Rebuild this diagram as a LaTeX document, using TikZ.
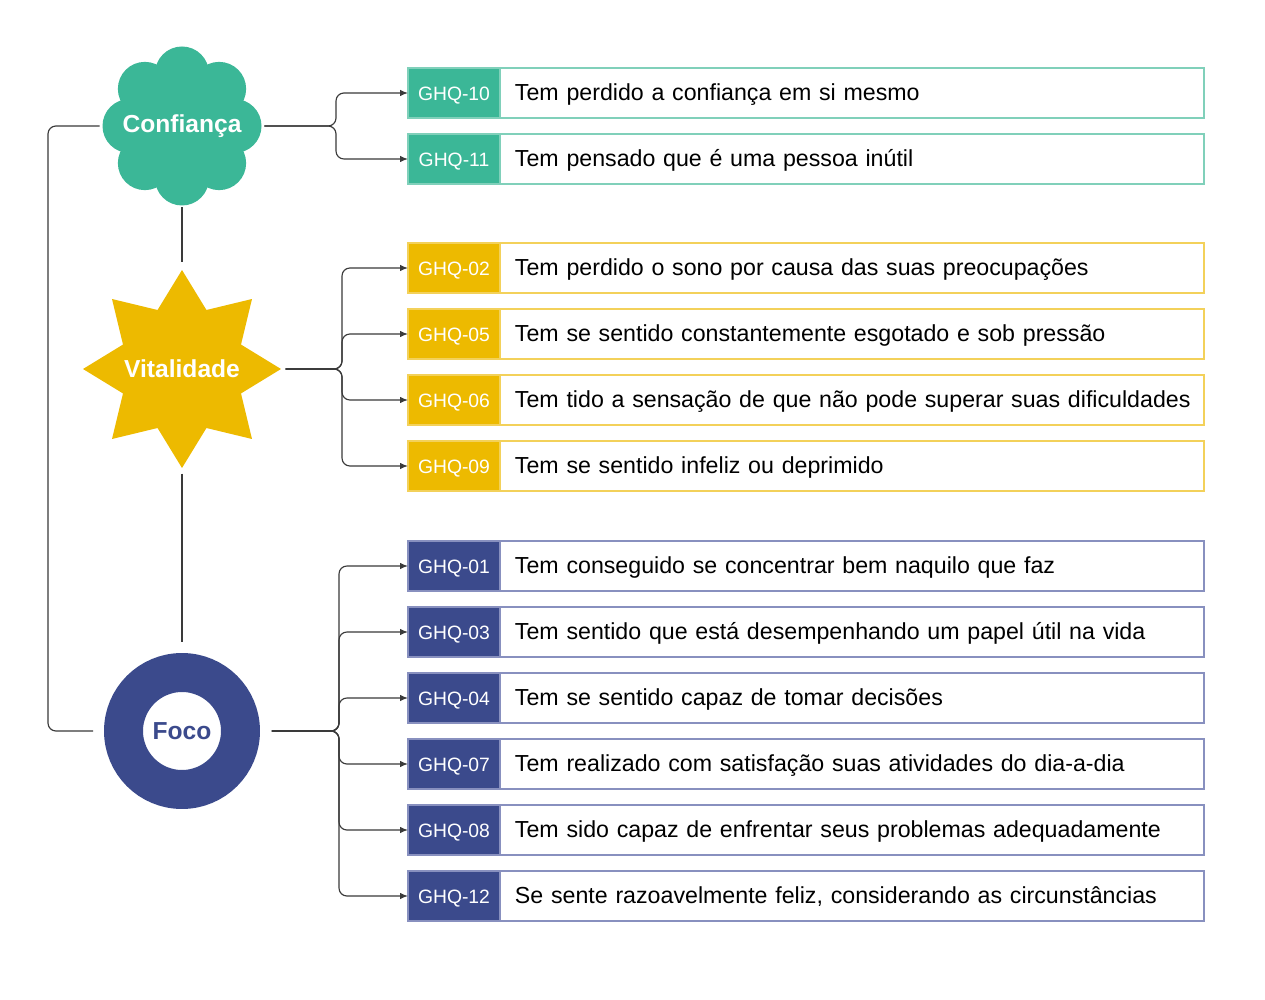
\documentclass[tikz,border=0pt]{standalone}
\usepackage{fontspec}
\setmainfont{Liberation Sans}
\usetikzlibrary{shapes.geometric,arrows.meta,positioning}

\definecolor{verde}{HTML}{3BB797}
\definecolor{verdeclaro}{HTML}{80D0BA}
\definecolor{amarelo}{HTML}{EDBA00}
\definecolor{amareloclaro}{HTML}{F3D15A}
\definecolor{azul}{HTML}{3B4A8C}
\definecolor{azulclaro}{HTML}{8890BF}
\definecolor{linha}{HTML}{3A3A3A}

\tikzset{
  link/.style={draw=linha, line width=0.65pt, rounded corners=4.5pt},
  seta/.style={link, -{Latex[length=1.6mm,width=1.3mm]}},
  codigo/.style 2 args={fill=#1, draw=#2, line width=1.1pt, text=white,
    minimum width=1.84cm, minimum height=1cm, inner sep=0pt, outer sep=0pt,
    text height=10pt, text depth=2pt,
    anchor=west, font=\fontsize{11}{13}\selectfont},
  item/.style={draw=#1, line width=1.1pt, minimum height=1cm, text width=13.48cm,
    inner xsep=0.3cm, inner ysep=0pt, outer sep=0pt, align=left, anchor=west,
    text height=11pt, text depth=2pt,
    font=\fontsize{13.2}{15}\selectfont},
  fator/.style={text=white, font=\bfseries\fontsize{14}{16}\selectfont, inner sep=0pt}
}

\begin{document}
\begin{tikzpicture}[x=0.02cm, y=-0.02cm]

% Fundo
\path[fill=white, use as bounding box] (0,0) rectangle (1265,1000);

% Nuvem da Confiança
\fill[verde] (182,126) circle (55);
\foreach \a in {0,45,...,315} {
    \fill[verde] (182,126) ++(\a:52.5) circle (27);
}
\node[fator, circle, minimum size=3.18cm, text height=10pt, text depth=3pt] (conf) at (182,126) {Confiança};

% Estrela da Vitalidade
\node[star, star points=8, star point ratio=1.55, minimum size=3.96cm, inner sep=0pt,
      fill=amarelo, label={[fator]center:Vitalidade}] (vita) at (182,369) {};

% Anel do Foco
\node[fator, circle, draw=azul, line width=0.78cm, fill=white, minimum size=2.34cm, text=azul] (foco) at (182,731) {Foco};

% Ligações entre os fatores
\coordinate (esq) at (48,126);
\draw[link, shorten <=0.05cm, shorten >=0.22cm] (conf.west) -- (esq) |- (foco.west);
\draw[link, shorten <=0.03cm, shorten >=0.14cm] (conf.south) -- (vita.north);
\draw[link, shorten <=0.1cm, shorten >=0.22cm] (vita.south) -- (foco.north);

% Itens da Confiança
\coordinate (jc) at (336,126);
\foreach \c/\y/\txt in {10/93/Tem perdido a confiança em si mesmo,
                        11/159/Tem pensado que é uma pessoa inútil} {
    \node[codigo={verde}{verdeclaro}] (g\c) at (408,\y) {GHQ-\c};
    \node[item=verdeclaro, right=0pt of g\c] (t\c) {\mbox{\txt}};
    \draw[seta, shorten <=0.05cm] (conf.east) -- (jc) |- (g\c.west);
}

% Itens da Vitalidade
\coordinate (jv) at (342,369);
\foreach \c/\y/\txt in {02/268/Tem perdido o sono por causa das suas preocupações,
                        05/334/Tem se sentido constantemente esgotado e sob pressão,
                        06/400/Tem tido a sensação de que não pode superar suas dificuldades,
                        09/466/Tem se sentido infeliz ou deprimido} {
    \node[codigo={amarelo}{amareloclaro}] (g\c) at (408,\y) {GHQ-\c};
    \node[item=amareloclaro, right=0pt of g\c] (t\c) {\mbox{\txt}};
    \draw[seta, shorten <=0.08cm] (vita.east) -- (jv) |- (g\c.west);
}

% Itens do Foco
\coordinate (jf) at (339,731);
\foreach \c/\y/\txt in {01/566/Tem conseguido se concentrar bem naquilo que faz,
                        03/632/Tem sentido que está desempenhando um papel útil na vida,
                        04/698/Tem se sentido capaz de tomar decisões,
                        07/764/Tem realizado com satisfação suas atividades do dia-a-dia,
                        08/830/Tem sido capaz de enfrentar seus problemas adequadamente,
                        12/896/{Se sente razoavelmente feliz, considerando as circunstâncias}} {
    \node[codigo={azul}{azulclaro}] (g\c) at (408,\y) {GHQ-\c};
    \node[item=azulclaro, right=0pt of g\c] (t\c) {\mbox{\txt}};
    \draw[seta, shorten <=0.24cm] (foco.east) -- (jf) |- (g\c.west);
}

\end{tikzpicture}
\end{document}
